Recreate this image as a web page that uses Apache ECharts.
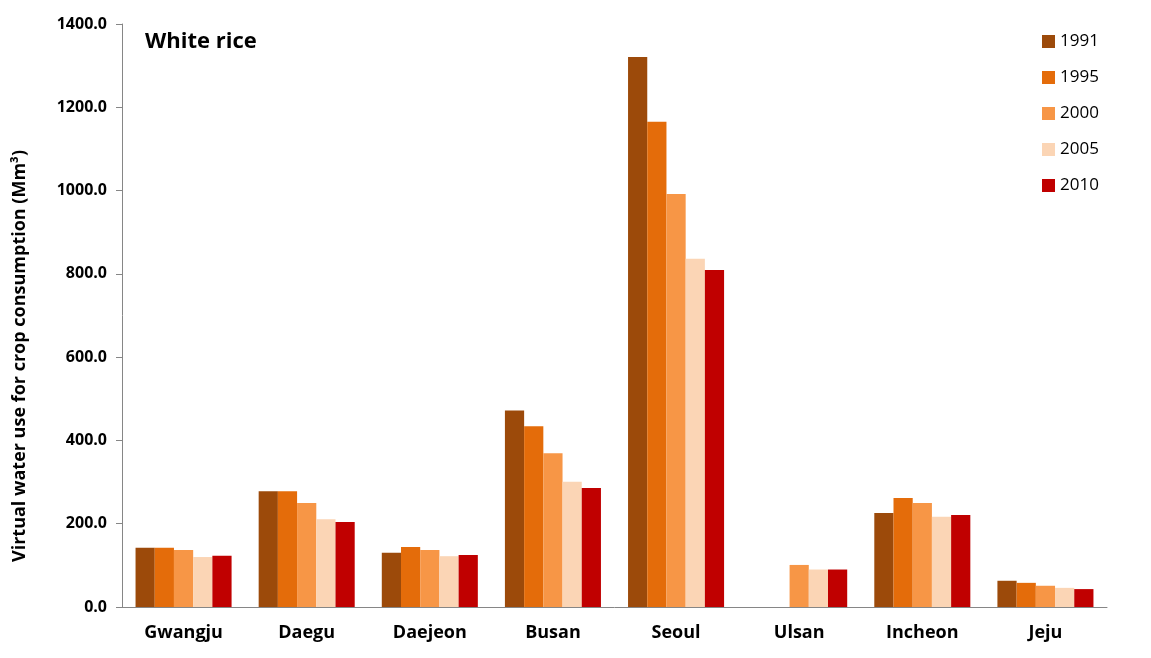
<!DOCTYPE html>
<html><head><meta charset="utf-8">
<script src="https://cdn.jsdelivr.net/npm/echarts@6/dist/echarts.min.js"></script>
<style>html,body{margin:0;padding:0;background:#fff}#c{width:1151px;height:658px}</style>
</head><body><div id="c"></div>
<script>
const categories = ['Gwangju','Daegu','Daejeon','Busan','Seoul','Ulsan','Incheon','Jeju'];
const years = ['1991','1995','2000','2005','2010'];
const v1991 = [142, 278, 130, 472, 1321, null, 226, 63];
const v1995 = [142, 278, 144, 434, 1165, null, 262, 58];
const v2000 = [137, 250, 137, 369, 992, 101, 250, 51];
const v2005 = [120, 211, 122, 301, 836, 90, 217, 46];
const v2010 = [123, 204, 125, 286, 809, 90, 221, 43];
const yTicks = [0, 200, 400, 600, 800, 1000, 1200, 1400];
const colors = ['#9C4A0A', '#E46C0A', '#F79646', '#FBD5B5', '#C00000'];
const seriesData = [v1991, v1995, v2000, v2005, v2010];
const yName = 'Virtual water use for crop consumption (Mm³)';
const font = '"Open Sans", "Liberation Sans", sans-serif';

const chart = echarts.init(document.getElementById('c'), null, {renderer:'canvas'});
chart.setOption({
  animation: false,
  color: colors,
  title: {
    text: 'White rice', left: 140, top: 26,
    textStyle: {fontFamily: font, fontSize: 22, fontWeight: 'bold', color: '#000'}
  },
  legend: {
    orient: 'vertical', left: 1037, top: 28,
    itemWidth: 13, itemHeight: 13, itemGap: 19,
    icon: 'rect',
    textStyle: {fontFamily: font, fontSize: 17, color: '#000'},
    data: years
  },
  graphic: [{
    type: 'text', x: 20, y: 356, rotation: Math.PI / 2,
    style: {text: yName, fontFamily: font, fontSize: 18, fontWeight: 'bold', fill: '#000',
      align: 'center', verticalAlign: 'middle'}
  }],
  grid: {left: 122, right: 44, top: 24, bottom: 51, containLabel: false},
  xAxis: {
    type: 'category', data: categories,
    axisLine: {lineStyle: {color: '#868686', width: 1}},
    axisTick: {show: false},
    axisLabel: {fontFamily: font, fontSize: 18, fontWeight: 'bold', color: '#000', margin: 17}
  },
  yAxis: {
    type: 'value', min: 0, max: 1400, interval: 200,
    axisLine: {show: true, lineStyle: {color: '#868686', width: 1}},
    axisTick: {show: true, length: 6, lineStyle: {color: '#868686'}},
    splitLine: {show: false},
    axisLabel: {fontFamily: font, fontSize: 16, fontWeight: 'bold', color: '#000', margin: 15,
      formatter: v => yTicks.includes(v) ? v.toFixed(1) : ''}
  },
  series: years.map((y, i) => ({
    name: y, type: 'bar', data: seriesData[i],
    barGap: '0%', barCategoryGap: '22%',
    itemStyle: {color: colors[i]}
  }))
});
</script></body></html>
